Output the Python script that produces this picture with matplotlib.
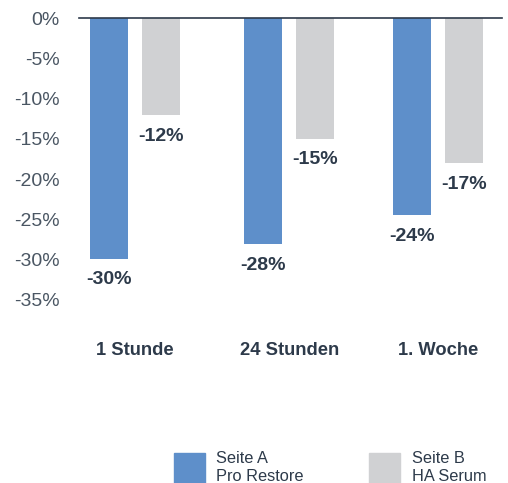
import matplotlib
matplotlib.use("Agg")
import matplotlib.pyplot as plt
from matplotlib.patches import Rectangle
import numpy as np

plt.rcParams['font.family'] = ['Liberation Sans', 'DejaVu Sans']

categories = ["1 Stunde", "24 Stunden", "1. Woche"]
seite_a = [-29.9, -28.1, -24.5]
seite_b = [-12.1, -15.0, -18.0]
labels_a = ["-30%", "-28%", "-24%"]
labels_b = ["-12%", "-15%", "-17%"]
series_names = ["Seite A\nPro Restore", "Seite B\nHA Serum"]
yticks = [0, -5, -10, -15, -20, -25, -30, -35]

BLUE = "#5e8fca"
GRAY = "#d0d1d3"
DARK = "#2d3a4a"
TICK = "#4a5663"

W, H = 508, 483
fig = plt.figure(figsize=(W / 100, H / 100), dpi=100)
ax = fig.add_axes([79 / W, (H - 300) / H, (502 - 79) / W, (300 - 18) / H])

x = np.array([0, 1.015, 1.995])
off = 0.172
bw = 0.25
ax.bar(x - off, seite_a, width=bw, color=BLUE)
ax.bar(x + off, seite_b, width=bw, color=GRAY)

for xi, v, t in zip(x - off, seite_a, labels_a):
    ax.annotate(t, (xi, v), xytext=(0, -9), textcoords="offset points",
                ha="center", va="top", fontsize=14, fontweight="bold", color=DARK)
for xi, v, t in zip(x + off, seite_b, labels_b):
    ax.annotate(t, (xi, v), xytext=(0, -9), textcoords="offset points",
                ha="center", va="top", fontsize=14, fontweight="bold", color=DARK)

ax.set_ylim(-35, 0)
ax.set_xlim(-0.368, 2.414)
ax.set_yticks(yticks)
ax.set_yticklabels([f"{t}%" for t in yticks], fontsize=14, color=TICK)
ax.tick_params(axis="y", length=0, pad=14)
ax.set_xticks(x)
ax.set_xticklabels(categories, fontsize=13.2, fontweight="bold", color=DARK)
ax.tick_params(axis="x", length=0, pad=30)
for s in ["left", "right", "bottom"]:
    ax.spines[s].set_visible(False)
ax.spines["top"].set_color(DARK)
ax.spines["top"].set_linewidth(1.2)

# legend
for (px, col, name, tx) in [(174, BLUE, series_names[0], 216), (369, GRAY, series_names[1], 412)]:
    fig.patches.append(Rectangle((px / W, 0), 31 / W, (H - 453) / H,
                                 transform=fig.transFigure, color=col))
    fig.text(tx / W, (H - 451) / H, name, ha="left", va="top", fontsize=11.8,
             color=DARK, linespacing=1.25)

fig.savefig("out.png", dpi=100)
